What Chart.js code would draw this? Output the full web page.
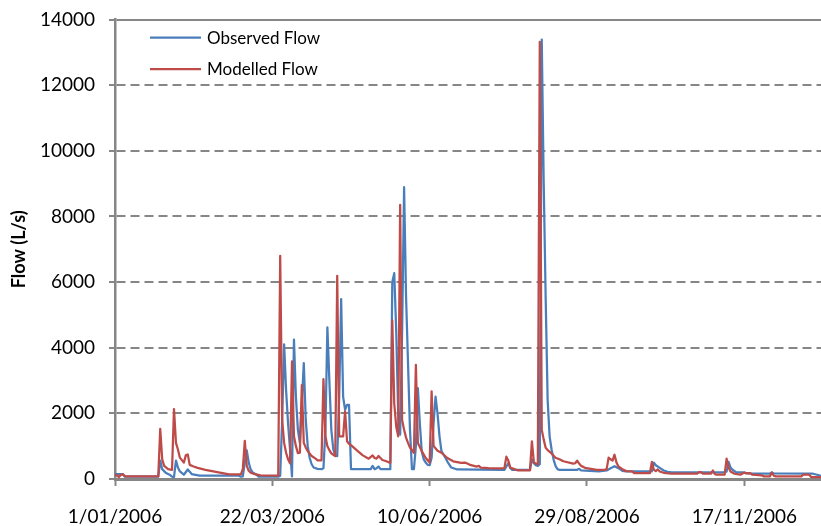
<!DOCTYPE html>
<html>
<head>
<meta charset="utf-8">
<script src="https://cdn.jsdelivr.net/npm/chart.js@4.4.1/dist/chart.umd.min.js"></script>
<style>
  html, body { margin: 0; padding: 0; background: #fff; }
  #wrap { width: 821px; height: 526px; }
</style>
</head>
<body>
<div id="wrap"><canvas id="flowChart" width="821" height="526"></canvas></div>
<script>
// --- DATA (day index from 1/01/2006, flow in L/s) ---
const seriesNames = ['Observed Flow', 'Modelled Flow'];
const tickDays = [0, 80, 160, 240, 320];
const yTicks = [0, 2000, 4000, 6000, 8000, 10000, 12000, 14000];

const obsDays = [0,4,5,22,23,24,26,28,29,30,31,32,33,35,37,38,39,43,63,64,65,66,67,68,69,70,72,73,83,84,85,86,87,88,89,90,91,92,93,94,95,96,97,98,99,100,101,103,105,106,107,108,109,110,111,112,113,114,115,116,117,118,119,120,130,131,132,133,134,135,140,141,142,143,144,145,146,147,148,149,150,151,152,153,154,155,156,157,158,159,160,161,162,163,164,165,166,168,169,171,174,198,199,200,201,202,211,212,213,214,215,216,217,218,219,220,221,222,223,224,225,226,235,236,237,246,250,252,254,256,258,260,273,274,275,277,279,281,283,310,311,312,313,314,316,319,322,333,334,335,355,357,360,364];
const obsFlow = [150,150,70,70,560,300,180,120,70,60,560,350,230,130,290,220,150,100,100,70,80,500,870,500,290,200,130,70,70,100,1800,4100,2700,1700,900,80,4250,2500,1500,1100,2300,3530,1800,1000,640,450,350,310,300,330,1500,4620,3000,1500,900,710,700,2500,5480,2500,2110,2260,2260,300,300,400,300,330,380,300,300,6000,6270,4500,2000,1350,4500,8890,5560,3530,1500,300,300,1000,2770,1700,830,600,500,430,420,650,1700,2510,2000,1300,850,650,530,350,290,280,380,480,330,280,280,600,480,420,400,450,13390,9000,5500,2400,1300,900,600,400,300,280,280,310,260,235,260,330,390,330,250,235,235,500,420,340,260,220,200,200,230,520,350,280,200,200,170,160,200,170,160,130,80,80];

const modDays = [0,1,2,3,4,5,6,22,23,24,25,27,29,30,31,32,33,35,36,37,38,40,42,46,52,58,64,65,66,67,68,69,71,74,83,84,85,86,87,88,89,90,91,92,93,94,95,96,97,98,100,102,103,105,106,107,108,109,110,111,112,113,114,116,117,118,119,120,123,126,129,131,132,133,134,136,138,140,141,142,143,144,145,146,147,148,149,150,152,153,154,156,158,160,161,162,164,166,169,172,176,178,181,184,185,186,190,195,198,199,200,201,203,205,211,212,213,214,215,216,217,218,219,220,222,224,226,228,233,234,235,236,237,239,242,245,249,250,251,252,253,254,255,256,258,260,263,264,272,273,274,275,276,277,279,283,296,297,298,299,303,304,305,306,310,311,312,313,315,318,320,321,323,324,329,330,333,334,335,336,349,350,353,354,364];
const modFlow = [140,110,60,130,140,90,80,80,1530,600,400,300,280,2130,1100,900,650,500,720,750,430,380,340,280,210,140,140,300,1160,400,250,190,150,110,100,6800,1800,1100,800,600,480,3580,1300,1000,790,800,2860,1100,960,850,700,620,570,570,3040,1300,1000,880,780,740,700,6190,1300,1300,2060,1150,1070,1030,870,720,620,720,640,620,700,580,540,490,4830,2300,1600,1300,8350,1800,1500,1260,1100,960,800,3480,1100,850,640,500,2670,1010,860,800,640,540,490,500,420,380,400,350,330,320,330,680,560,350,300,260,260,1150,500,470,450,13320,1500,1200,950,880,780,650,600,540,470,480,560,470,400,340,310,280,280,300,650,600,560,740,500,380,300,240,230,180,180,520,280,240,290,230,190,160,160,210,210,160,160,260,150,130,130,620,350,230,160,130,200,170,180,130,110,80,80,200,100,80,80,130,130,60,60];

const lineColors = ['#4A7EBB', '#BE4B48'];
const gridGray = '#868686';
const fontFam = 'Lato, "Open Sans", sans-serif';

const toPoints = (days, vals) => days.map((d, i) => ({ x: d, y: vals[i] }));

const dayLabel = (v) => {
    const d = new Date(Date.UTC(2006, 0, 1) + v * 86400000);
    return d.getUTCDate() + '/' + String(d.getUTCMonth() + 1).padStart(2, '0') + '/' + d.getUTCFullYear();
};

// legend drawn inside the plot, top-left
const innerLegend = {
    id: 'innerLegend',
    afterDraw(chart) {
        const { ctx, chartArea } = chart;
        ctx.save();
        ctx.font = '17px ' + fontFam;
        ctx.textBaseline = 'middle';
        chart.data.datasets.forEach((ds, i) => {
            const y = chartArea.top + 18 + i * 31.5;
            const x = chartArea.left + 35;
            ctx.strokeStyle = ds.borderColor;
            ctx.lineWidth = 2.25;
            ctx.beginPath();
            ctx.moveTo(x, y);
            ctx.lineTo(x + 51, y);
            ctx.stroke();
            ctx.fillStyle = '#000';
            ctx.fillText(ds.label, x + 57, y + 1);
        });
        ctx.restore();
    }
};

const ctx = document.getElementById('flowChart').getContext('2d');
new Chart(ctx, {
    type: 'line',
    data: {
        datasets: [
            { label: seriesNames[0], data: toPoints(obsDays, obsFlow), borderColor: lineColors[0], order: 2 },
            { label: seriesNames[1], data: toPoints(modDays, modFlow), borderColor: lineColors[1], order: 1 }
        ]
    },
    options: {
        responsive: false,
        devicePixelRatio: 1,
        animation: false,
        layout: { padding: { top: 19.5, right: 0, bottom: 0, left: 0 } },
        elements: {
            point: { radius: 0 },
            line: { borderWidth: 2.25, tension: 0, borderJoinStyle: 'round', fill: false }
        },
        plugins: { legend: { display: false }, tooltip: { enabled: false } },
        scales: {
            x: {
                type: 'linear',
                min: 0,
                max: 359,
                afterBuildTicks: s => { s.ticks = tickDays.map(v => ({ value: v })); },
                afterFit: s => { s.height = 47; },
                ticks: {
                    callback: v => dayLabel(v),
                    color: '#000',
                    font: { family: fontFam, size: 19 },
                    maxRotation: 0,
                    autoSkip: false,
                    padding: 19
                },
                grid: { drawOnChartArea: false, drawTicks: true, tickLength: 7, tickColor: gridGray, tickWidth: 2 },
                border: { color: gridGray, width: 3 }
            },
            y: {
                min: 0,
                max: 14000,
                afterBuildTicks: s => { s.ticks = yTicks.map(v => ({ value: v })); },
                afterFit: s => { s.width = 115; s.paddingTop = 0; s.paddingBottom = 0; },
                ticks: {
                    callback: v => String(v),
                    color: '#000',
                    font: { family: fontFam, size: 19 },
                    padding: 14
                },
                grid: { color: gridGray, lineWidth: 2, tickLength: 6, tickColor: gridGray, tickWidth: 2 },
                border: {
                    color: gridGray,
                    width: 2.5,
                    dash: c => (c.tick && c.tick.value === 14000) ? [] : [9, 5]
                },
                title: {
                    display: true,
                    text: 'Flow (L/s)',
                    color: '#000',
                    font: { family: fontFam, size: 18, weight: 'bold' },
                    padding: { top: 8, bottom: 0 }
                }
            }
        }
    },
    plugins: [innerLegend]
});
</script>
</body>
</html>
